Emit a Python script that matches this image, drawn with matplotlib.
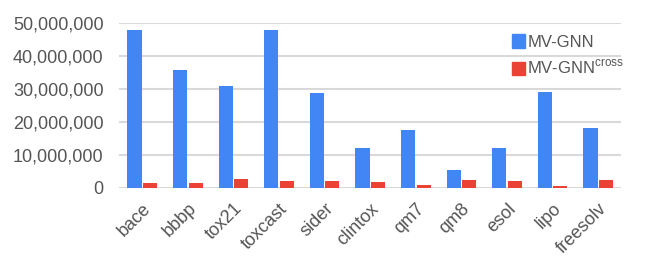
import numpy as np
import matplotlib
matplotlib.use('Agg')
import matplotlib.pyplot as plt
from matplotlib.ticker import FuncFormatter
from matplotlib.patches import Patch

datasets = ['bace', 'bbbp', 'tox21', 'toxcast', 'sider', 'clintox',
            'qm7', 'qm8', 'esol', 'lipo', 'freesolv']
mvgnn = [48.0e6, 35.8e6, 30.9e6, 48.0e6, 28.8e6, 12.1e6,
         17.6e6, 5.4e6, 12.1e6, 29.1e6, 18.2e6]
mvgnn_cross = [1.4e6, 1.4e6, 2.6e6, 2.0e6, 2.0e6, 1.7e6,
               0.8e6, 2.3e6, 2.0e6, 0.5e6, 2.3e6]
yticks = [0, 10e6, 20e6, 30e6, 40e6, 50e6]

plt.rcParams['font.family'] = ['Liberation Sans', 'DejaVu Sans']

blue = '#4285F4'
red = '#EA4335'
grey_text = '#555555'

fig = plt.figure(figsize=(6.6, 2.7), dpi=100)
ax = fig.add_axes([0.181, 0.305, 0.76, 0.61])

x = np.arange(len(datasets))
w = 0.31
ax.bar(x - 0.17, mvgnn, w, color=blue, zorder=3)
ax.bar(x + 0.17, mvgnn_cross, w, color=red, zorder=3)

ax.set_xlim(-0.5, len(datasets) - 0.5)
ax.set_ylim(0, 50e6)
ax.set_yticks(yticks)
ax.yaxis.set_major_formatter(FuncFormatter(lambda v, p: f'{int(v):,}'))
ax.grid(axis='y', color='#d9d9d9', linewidth=1.5, zorder=0)
ax.set_axisbelow(True)
for s in ax.spines.values():
    s.set_visible(False)
ax.tick_params(axis='both', length=0, colors=grey_text, labelsize=13)
ax.tick_params(axis='y', pad=11.5)

ax.set_xticks(x)
ax.set_xticklabels(datasets, rotation=45, ha='right', rotation_mode='anchor',
                   fontsize=13, color=grey_text)
ax.tick_params(axis='x', pad=9)

handles = [Patch(color=blue), Patch(color=red)]
labels = ['MV-GNN', 'MV-GNN$^{\\mathregular{cross}}$']
leg = ax.legend(handles, labels, loc='upper left', bbox_to_anchor=(0.783, 0.93),
                frameon=False, fontsize=12, handlelength=0.75, handleheight=0.85,
                handletextpad=0.15, labelspacing=0.55, borderpad=0, borderaxespad=0)
for t in leg.get_texts():
    t.set_color(grey_text)

fig.savefig('out.png', dpi=100)
